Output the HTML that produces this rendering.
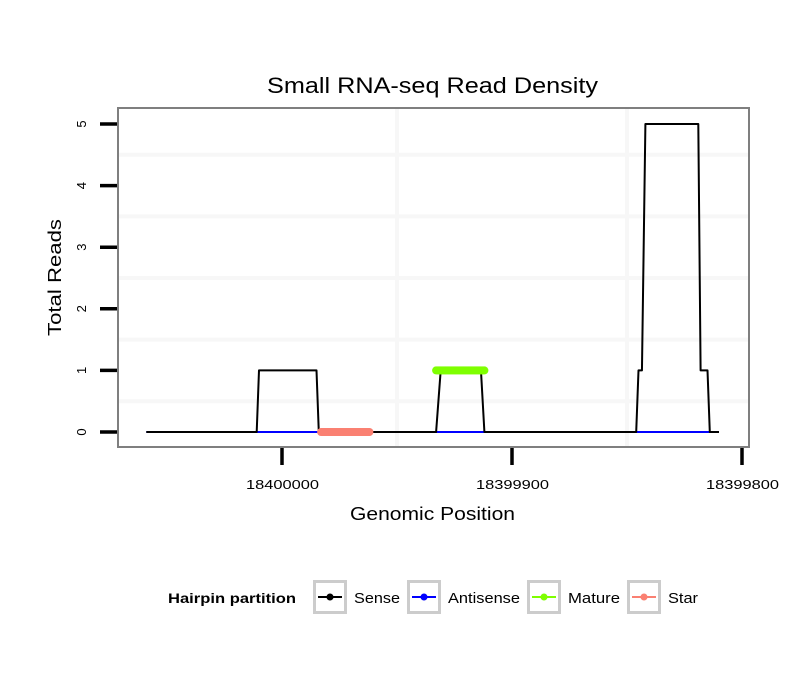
<!DOCTYPE html>
<html><head><meta charset="utf-8"><style>body{margin:0;background:#fff}svg{display:block;font-family:"Liberation Sans",sans-serif}</style></head>
<body>
<svg id="chart" width="810" height="690" viewBox="0 0 810 690" xmlns="http://www.w3.org/2000/svg">
<rect width="810" height="690" fill="#fff"/>
<text x="267" y="93" font-size="22" textLength="331" lengthAdjust="spacingAndGlyphs">Small RNA-seq Read Density</text>
<g id="grid"></g>
<g id="series"></g>
<rect x="118" y="108" width="631" height="339" fill="none" stroke="#7f7f7f" stroke-width="2"/>
<g id="axes"></g>
<text x="350" y="520" font-size="18" textLength="165" lengthAdjust="spacingAndGlyphs">Genomic Position</text>
<text transform="translate(61,336) rotate(-90)" font-size="18" textLength="117" lengthAdjust="spacingAndGlyphs">Total Reads</text>
<g id="legend">
<text x="168" y="603" font-size="14" font-weight="bold" textLength="128" lengthAdjust="spacingAndGlyphs">Hairpin partition</text>
</g>
</svg>
<script>
const xTicks=[18400000,18399900,18399800];
const yTicks=[0,1,2,3,4,5];
const senseX=[18400059,18400011,18400010,18399985,18399984,18399933,18399931,18399913.5,18399912,18399846,18399845,18399843.5,18399842,18399819,18399818,18399815,18399814,18399810];
const senseY=[0,0,1,1,0,0,1,1,0,0,1,1,5,5,1,1,0,0];
const antisenseX=[18400059,18399810];
const antisenseY=[0,0];
const matureX=[18399933,18399912];
const matureY=[1,1];
const starX=[18399983,18399962];
const starY=[0,0];
const legendLabels=["Sense","Antisense","Mature","Star"];
const legendColors=["#000","#0000ff","#7fff00","#fa8072"];

const ns="http://www.w3.org/2000/svg";
const X=p=>282+(18400000-p)*2.3;
const Y=v=>432-v*61.6;
function mk(tag,attrs,parent){const e=document.createElementNS(ns,tag);for(const k in attrs)e.setAttribute(k,attrs[k]);parent.appendChild(e);return e;}
const grid=document.getElementById('grid'),ser=document.getElementById('series'),axes=document.getElementById('axes'),leg=document.getElementById('legend');
for(let v=0.5;v<=5;v+=1){const y=Y(v);
 const l=mk('line',{x1:119,x2:748,y1:y,y2:y,stroke:'#f7f7f7','stroke-width':4},grid);
 }
for(let p=18399950;p>=18399750;p-=100){const x=X(p);if(x<119||x>748)continue;
 const l=mk('line',{x1:x,x2:x,y1:109,y2:446,stroke:'#f7f7f7','stroke-width':4},grid);
 }
function line(xs,ys,col,w,name){const pts=xs.map((p,i)=>X(p)+','+Y(ys[i])).join(' ');
 const e=mk('polyline',{points:pts,fill:'none',stroke:col,'stroke-width':w,'stroke-linejoin':'round'},ser);
 }
line(antisenseX,antisenseY,'#0000ff',2,'antisense-line');
line(senseX,senseY,'#000',2,'sense-line');
function dots(xs,ys,col,name){for(let p=xs[0];p>=xs[1];p-=0.5){const c=mk('circle',{cx:X(p),cy:Y(ys[0]),r:4,fill:col},ser);
 }}
dots(matureX,matureY,'#7fff00','mature-point');
dots(starX,starY,'#fa8072','star-point');
yTicks.forEach(v=>{const y=Y(v);
 const t=mk('line',{x1:100,x2:117,y1:y,y2:y,stroke:'#000','stroke-width':3.5},axes);
 
 const tx=mk('text',{transform:`translate(86,${y}) rotate(-90)`,'font-size':13,'text-anchor':'middle'},axes);tx.textContent=v;
 });
xTicks.forEach(p=>{const x=X(p);
 const t=mk('line',{x1:x,x2:x,y1:448,y2:465,stroke:'#000','stroke-width':3.5},axes);
 
 const tx=mk('text',{x:x-36,y:489,'font-size':13,textLength:73,lengthAdjust:'spacingAndGlyphs'},axes);tx.textContent=p;
 });
const keyX=[313,407,527,627],labX=[354,448,568,668],labW=[46,72,52,30];
legendLabels.forEach((lab,i)=>{const g=mk('g',{},leg);
 
 mk('rect',{x:keyX[i]+1.5,y:581.5,width:31,height:31,fill:'#fff',stroke:'#cccccc','stroke-width':3},g);
 mk('line',{x1:keyX[i]+5,x2:keyX[i]+29,y1:597,y2:597,stroke:legendColors[i],'stroke-width':2},g);
 mk('circle',{cx:keyX[i]+17,cy:597,r:3.5,fill:legendColors[i]},g);
 const t=mk('text',{x:labX[i],y:603,'font-size':15,textLength:labW[i],lengthAdjust:'spacingAndGlyphs'},g);t.textContent=lab;});
</script>
</body></html>
